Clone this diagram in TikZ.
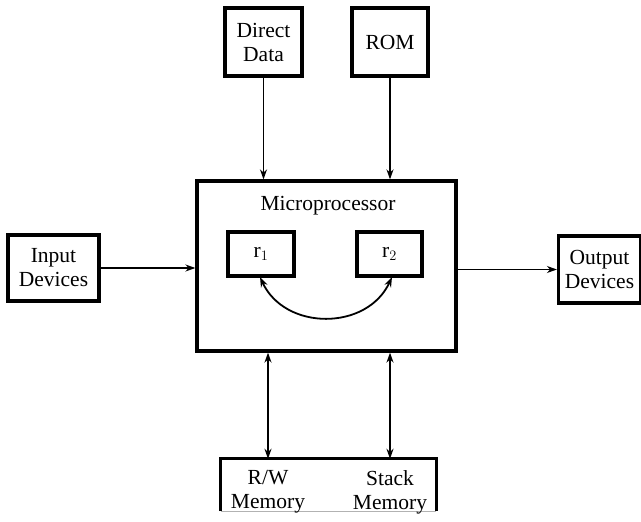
\documentclass[tikz,border=0pt]{standalone}
\usepackage{fontspec}
\setmainfont{Liberation Serif}
\usetikzlibrary{arrows.meta}
\begin{document}
\begin{tikzpicture}[x=1pt,y=-1pt,
  box/.style={draw, line width=3.2pt, rectangle, inner sep=0pt, align=center,
    font=\fontsize{21.5}{24}\selectfont},
  lbl/.style={inner sep=0pt, align=center, font=\fontsize{21.5}{24}\selectfont},
  conn/.style={line width=1.8pt, -{Stealth[length=10pt,width=7pt]}},
  dconn/.style={line width=1.8pt, {Stealth[length=10pt,width=7pt]}-{Stealth[length=10pt,width=7pt]}}
]
\useasboundingbox (0,0) rectangle (641,522);
% top boxes
\node[box, minimum width=77pt, minimum height=68pt] (dd) at (263.5,42) {Direct\\Data};
\node[box, minimum width=76pt, minimum height=68pt] (rom) at (390,42) {ROM};
% microprocessor
\node[box, minimum width=259pt, minimum height=170pt] (mp) at (326.5,266) {};
\node[lbl] (mplbl) at (328,206) {Microprocessor};
\node[box, minimum width=66pt, minimum height=44pt] (r1) at (261,254) {r$_{1}$};
\node[box, minimum width=65pt, minimum height=44pt] (r2) at (389.5,254) {r$_{2}$};
% side boxes
\node[box, minimum width=91pt, minimum height=66pt] (in) at (53.5,268) {Input\\Devices};
\node[box, minimum width=82pt, minimum height=67pt] (out) at (599.5,269.5) {Output\\Devices};
% memory box
\node[minimum width=215pt, minimum height=52pt, inner sep=0pt] (mem) at (328.5,485) {};
\draw[line width=3.2pt] (mem.south west) -- (mem.north west) -- (mem.north east) -- (mem.south east);
\draw[line width=1pt, gray!60] (mem.south west) -- (mem.south east);
\node[lbl] (rw) at (268,492) {R/W\\Memory};
\node[lbl] (stk) at (390,492) {Stack\\Memory};
% connectors
\draw[conn] (dd.south) -- (dd.south |- mp.north);
\draw[conn] (rom.south) -- (rom.south |- mp.north);
\draw[conn] (in.east) -- (in.east -| mp.west);
\draw[conn] (mp.east |- out.west) -- (out.west);
\draw[dconn] (rw.north |- mp.south) -- (rw.north |- mem.north);
\draw[dconn] (stk.north |- mp.south) -- (stk.north |- mem.north);
\coordinate (c1) at (260,277);
\coordinate (c2) at (392,277);
\draw[dconn] (c1) .. controls (285,331) and (367,331) .. (c2);
\end{tikzpicture}
\end{document}
